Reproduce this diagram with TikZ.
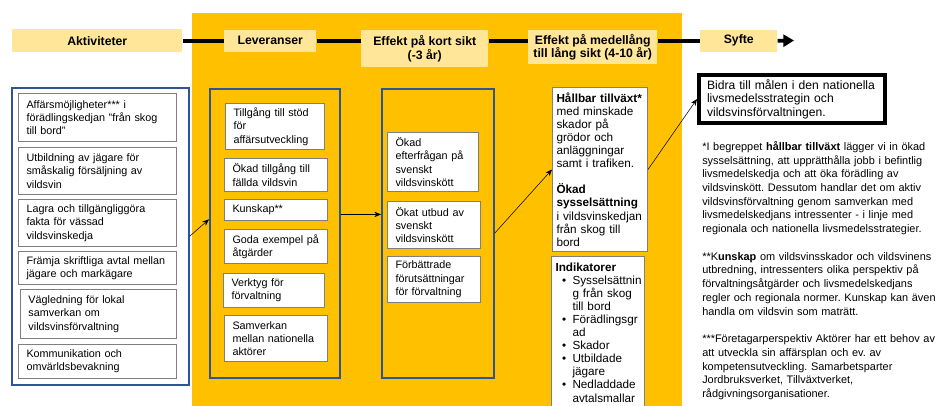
\documentclass[tikz,border=0pt]{standalone}
\usepackage{fontspec}
\setmainfont{Liberation Sans}
\usetikzlibrary{arrows.meta, calc}
\frenchspacing

\definecolor{bgyellow}{HTML}{FFC000}
\definecolor{hdrfill}{HTML}{FFE699}
\definecolor{grpblue}{HTML}{2F5597}
\definecolor{boxgray}{HTML}{7F7F7F}

\newcommand{\indbul}{\hspace*{5pt}\makebox[7.75pt][l]{\textbullet}}
\newcommand{\indcont}{\hspace*{12.75pt}}

\tikzset{
  hdr/.style={fill=hdrfill, anchor=north west, align=center, inner sep=0pt,
    font=\fontsize{9.2}{10}\selectfont\bfseries},
  hline/.style={line width=2.8pt},
  grp/.style={draw=grpblue, line width=1.2pt, anchor=north west, inner sep=0pt},
  box/.style={draw=boxgray, line width=0.75pt, fill=white, anchor=north west,
    align=left, inner xsep=6pt, inner ysep=2pt, font=\fontsize{8.1}{10}\selectfont},
}

\begin{document}
\begin{tikzpicture}[x=0.75pt, y=-0.75pt, >={Stealth[length=5pt,width=4pt]}]
  \useasboundingbox (0,0) rectangle (937,405);

  % Yellow backdrop
  \fill[bgyellow] (192,13) rectangle (682,415);

  % Header row
  \node[hdr, minimum width=127.5pt, minimum height=17.25pt] (akt) at (12,29) {Aktiviteter};
  \node[hdr, minimum width=69pt, minimum height=16.5pt] (lev) at (224,29.5) {Leveranser};
  \node[hdr, minimum width=95.25pt, minimum height=27.75pt] (kort) at (361,30) {Effekt på kort sikt\\(-3 år)};
  \node[hdr, minimum width=96.75pt, minimum height=25.5pt] (medel) at (528,30) {Effekt på medellång\\till lång sikt (4-10 år)};
  \node[hdr, minimum width=57.75pt, minimum height=16.5pt] (syfte) at (700,29.5) {Syfte};
  \coordinate (tip) at (794,40.5);

  \draw[hline] (akt.east) -- (lev.west);
  \draw[hline] (lev.east) -- (akt.east -| kort.west);
  \draw[hline] (akt.east -| kort.east) -- (akt.east -| medel.west);
  \draw[hline] (akt.east -| medel.east) -- (syfte.west);
  \draw[hline, -{Triangle[length=8pt,width=9pt]}] (syfte.east) -- (tip);

  % Blue groups
  \node[grp, minimum width=132.75pt, minimum height=222.75pt] (acts) at (11,87) {};
  \node[grp, minimum width=97.5pt, minimum height=216.75pt] (levs) at (209,88) {};
  \node[grp, minimum width=84pt, minimum height=216.75pt] (effs) at (381,88) {};

  % Aktiviteter
  \node[box, text width=106.5pt, minimum height=36pt] (a1) at (18,93) {Affärsmöjligheter*** i\\förädlingskedjan "från skog\\till bord"};
  \node[box, text width=106.5pt, minimum height=35.25pt] (a2) at (18,147) {Utbildning av jägare för\\småskalig försäljning av\\vildsvin};
  \node[box, text width=106.5pt, minimum height=35.25pt] (a3) at (18,199) {Lagra och tillgängliggöra\\fakta för vässad\\vildsvinskedja};
  \node[box, text width=106.5pt, minimum height=24.75pt] (a4) at (18,251) {Främja skriftliga avtal mellan\\jägare och markägare};
  \node[box, text width=105pt, minimum height=36.75pt] (a5) at (20,289) {Vägledning för lokal\\samverkan om\\vildsvinsförvaltning};
  \node[box, text width=106.5pt, minimum height=25.5pt] (a6) at (18,344) {Kommunikation och\\omvärldsbevakning};

  % Leveranser
  \node[box, text width=62.25pt, minimum height=34.5pt] (l1) at (225,103) {Tillgång till stöd\\för\\affärsutveckling};
  \node[box, text width=65.25pt, minimum height=24.75pt] (l2) at (224,158) {Ökad tillgång till\\fällda vildsvin};
  \node[box, text width=65.25pt, minimum height=15.75pt] (l3) at (224,199) {Kunskap**};
  \node[box, text width=65.25pt, minimum height=25.5pt] (l4) at (224,229) {Goda exempel på\\åtgärder};
  \node[box, text width=63.75pt, minimum height=25.5pt] (l5) at (223,273) {Verktyg för\\förvaltning};
  \node[box, text width=65.25pt, minimum height=34.5pt] (l6) at (224,315) {Samverkan\\mellan nationella\\aktörer};

  % Effekt på kort sikt
  \node[box, text width=56.25pt, minimum height=44.25pt] (k1) at (387,132) {Ökad\\efterfrågan på\\svenskt\\vildsvinskött};
  \node[box, text width=57.75pt, minimum height=35.25pt] (k2) at (387,201) {Ökat utbud av\\svenskt\\vildsvinskött};
  \node[box, text width=57.75pt, minimum height=34.5pt] (k3) at (387,256) {Förbättrade\\förutsättningar\\för förvaltning};

  % Effekt på medellång till lång sikt
  \node[box, inner xsep=3pt, text width=65.25pt, minimum height=123pt,
    font=\fontsize{8.8}{9.8}\selectfont] (hallbar) at (552,87)
    {\textbf{Hållbar tillväxt*}\\med minskade\\skador på\\grödor och\\anläggningar\\samt i trafiken.\\[9.8pt]%
     \textbf{Ökad}\\\textbf{sysselsättning}\\i vildsvinskedjan\\från skog till\\bord};
  \node[box, inner xsep=3pt, text width=63.75pt, minimum height=114pt,
    font=\fontsize{8.8}{9.8}\selectfont] (ind) at (551,256)
    {\textbf{Indikatorer}\\\indbul Sysselsättnin\\\indcont g från skog\\\indcont till bord\\%
     \indbul Förädlingsgr\\\indcont ad\\\indbul Skador\\\indbul Utbildade\\\indcont jägare\\%
     \indbul Nedladdade\\\indcont avtalsmallar};

  % Syfte
  \node[draw, line width=3pt, anchor=north west, align=left, inner xsep=6pt, inner ysep=2pt,
    text width=127.5pt, minimum height=36pt, font=\fontsize{9.1}{10.1}\selectfont] (bidra) at (697,73)
    {Bidra till målen i den nationella\\livsmedelsstrategin och\\vildsvinsförvaltningen.};

  % Flow arrows
  \draw[->] (acts.east) -- (levs.168);
  \draw[->] (levs.16) -- (levs.16 -| effs.west);
  \draw[->] (effs.east) -- (hallbar.west);
  \draw[->] (hallbar.east) -- (bidra.west);

  % Footnotes
  \node[anchor=north west, align=left, inner sep=0pt, text width=190pt,
    font=\fontsize{8.2}{10.3}\selectfont] (note) at (702,141)
    {*I begreppet \textbf{hållbar tillväxt} lägger vi in ökad\\sysselsättning, att upprätthålla jobb i befintlig\\livsmedelskedja och att öka förädling av\\vildsvinskött. Dessutom handlar det om aktiv\\vildsvinsförvaltning genom samverkan med\\livsmedelskedjans intressenter - i linje med\\regionala och nationella livsmedelsstrategier.\\[10.3pt]%
     **K\textbf{unskap} om vildsvinsskador och vildsvinens\\utbredning, intressenters olika perspektiv på\\förvaltningsåtgärder och livsmedelskedjans\\regler och regionala normer. Kunskap kan även\\handla om vildsvin som maträtt.\\[10.3pt]%
     ***Företagarperspektiv Aktörer har ett behov av\\att utveckla sin affärsplan och ev. av\\kompetensutveckling. Samarbetsparter\\Jordbruksverket, Tillväxtverket,\\rådgivningsorganisationer.};
\end{tikzpicture}
\end{document}
